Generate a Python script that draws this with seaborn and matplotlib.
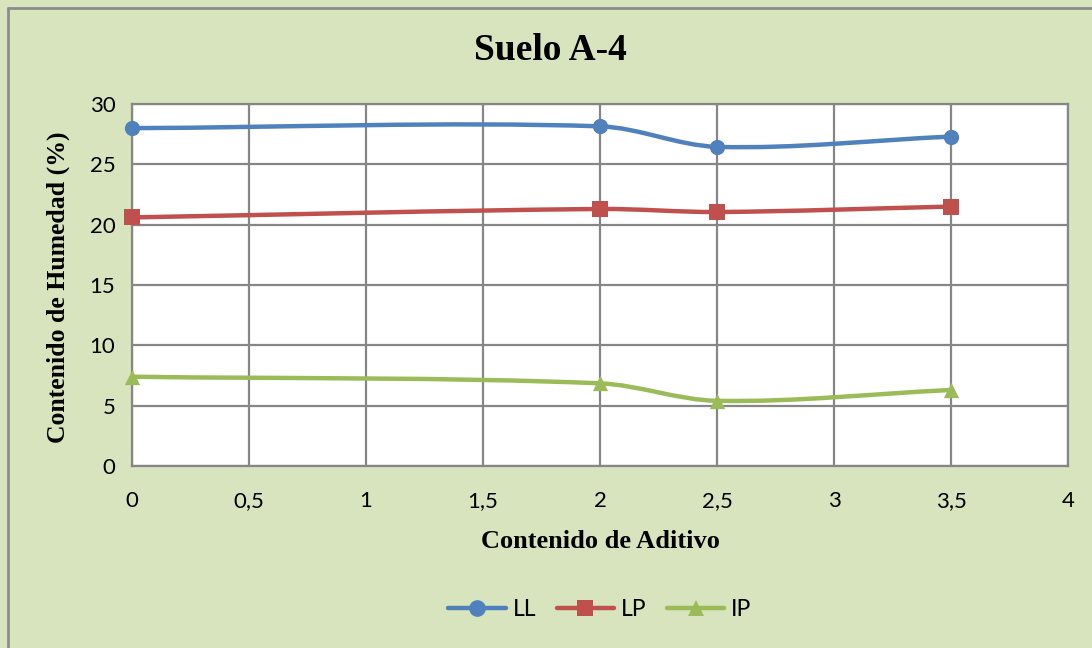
import numpy as np
import pandas as pd
import seaborn as sns
import matplotlib
matplotlib.use("Agg")
import matplotlib.pyplot as plt
from matplotlib.path import Path
from matplotlib.patches import PathPatch
from matplotlib.lines import Line2D

# ---- data ----
aditivo = [0, 2, 2.5, 3.5]
LL = [28.0, 28.15, 26.45, 27.3]
LP = [20.6, 21.3, 21.05, 21.5]
IP = [7.4, 6.85, 5.4, 6.3]
series_names = ["LL", "LP", "IP"]
x_ticks = [0, 0.5, 1, 1.5, 2, 2.5, 3, 3.5, 4]
x_tick_labels = ["0", "0,5", "1", "1,5", "2", "2,5", "3", "3,5", "4"]
y_ticks = [0, 5, 10, 15, 20, 25, 30]

colors = {"LL": "#4F81BD", "LP": "#C0504D", "IP": "#9BBB59"}
markers = {"LL": "o", "LP": "s", "IP": "^"}
msizes = {"LL": 11, "LP": 11, "IP": 11}
bg = "#D7E4BD"
serif = ["Liberation Serif", "DejaVu Serif"]

df = pd.DataFrame({"aditivo": aditivo * 3,
                   "valor": LL + LP + IP,
                   "serie": ["LL"] * 4 + ["LP"] * 4 + ["IP"] * 4})

sns.set_theme(style="white")
plt.rcParams["font.family"] = ["Lato", "DejaVu Sans"]
plt.rcParams["text.color"] = "black"
plt.rcParams["axes.labelcolor"] = "black"

fig = plt.figure(figsize=(10.92, 6.48), dpi=100)
fig.patch.set_facecolor(bg)
ax = fig.add_axes([132 / 1092, 1 - 466 / 648, (1068 - 132) / 1092, (466 - 104) / 648])
ax.set_facecolor("white")


def smooth_path(xs, ys):
    xs = np.asarray(xs, float)
    ys = np.asarray(ys, float)
    n = len(xs)
    m = np.zeros(n)
    for i in range(n):
        a = max(i - 1, 0)
        b = min(i + 1, n - 1)
        m[i] = (ys[b] - ys[a]) / (xs[b] - xs[a])
    verts = [(xs[0], ys[0])]
    codes = [Path.MOVETO]
    for i in range(n - 1):
        h = xs[i + 1] - xs[i]
        c1 = (xs[i] + h / 3, ys[i] + m[i] * h / 3)
        c2 = (xs[i + 1] - h / 3, ys[i + 1] - m[i + 1] * h / 3)
        verts += [c1, c2, (xs[i + 1], ys[i + 1])]
        codes += [Path.CURVE4] * 3
    return Path(verts, codes)


for name in series_names:
    sub = df[df.serie == name]
    patch = PathPatch(smooth_path(sub.aditivo.values, sub.valor.values),
                      facecolor="none", edgecolor=colors[name], lw=3.2,
                      capstyle="round", joinstyle="round", zorder=3)
    ax.add_patch(patch)

for name in series_names:
    sub = df[df.serie == name]
    sns.scatterplot(data=sub, x="aditivo", y="valor", ax=ax, marker=markers[name],
                    color=colors[name], s=msizes[name] ** 2, edgecolor=colors[name],
                    linewidth=0, zorder=4, legend=False, clip_on=False)

ax.set_xlim(0, 4)
ax.set_ylim(0, 30)
ax.set_xticks(x_ticks)
ax.set_xticklabels(x_tick_labels)
ax.set_yticks(y_ticks)
ax.grid(True, color="#868686", lw=1.6)
ax.set_axisbelow(True)
for s in ax.spines.values():
    s.set_color("#868686")
    s.set_linewidth(1.6)
ax.tick_params(axis="both", length=0, labelsize=16, colors="black", labelcolor="black")
ax.tick_params(axis="x", pad=18)
ax.tick_params(axis="y", pad=12)

ax.set_xlabel("Contenido de Aditivo", fontsize=19, fontweight="bold", family=serif,
              color="black")
ax.set_ylabel("Contenido de Humedad (%)", fontsize=18.5, fontweight="bold", family=serif,
              color="black")
ax.xaxis.set_label_coords(0.5, (466 - 541) / 362)
ax.xaxis.label.set_va("center")
ax.yaxis.set_label_coords((58 - 132) / 936, 0.494)
ax.yaxis.label.set_va("center")

fig.text(550 / 1092, 1 - 50 / 648, "Suelo A-4", ha="center", va="center", fontsize=27,
         fontweight="bold", family=serif, color="black")

handles = [Line2D([], [], color=colors[n], lw=3.2, marker=markers[n], markersize=12,
                  markeredgewidth=0) for n in series_names]
leg = fig.legend(handles, series_names, loc="center",
                 bbox_to_anchor=(600 / 1092, 1 - 610 / 648),
                 ncol=3, frameon=False, fontsize=16.5, handlelength=2.5, handletextpad=0.3,
                 columnspacing=0.9)
for t in leg.get_texts():
    t.set_color("black")

# chart border (left and top visible)
fig.add_artist(Line2D([7.5 / 1092, 7.5 / 1092], [0, 1 - 7.5 / 648], color="#8C8C8C",
                      lw=2, transform=fig.transFigure))
fig.add_artist(Line2D([7.5 / 1092, 1], [1 - 7.5 / 648, 1 - 7.5 / 648], color="#8C8C8C",
                      lw=2, transform=fig.transFigure))

fig.savefig("out.png", dpi=100, facecolor=bg)
